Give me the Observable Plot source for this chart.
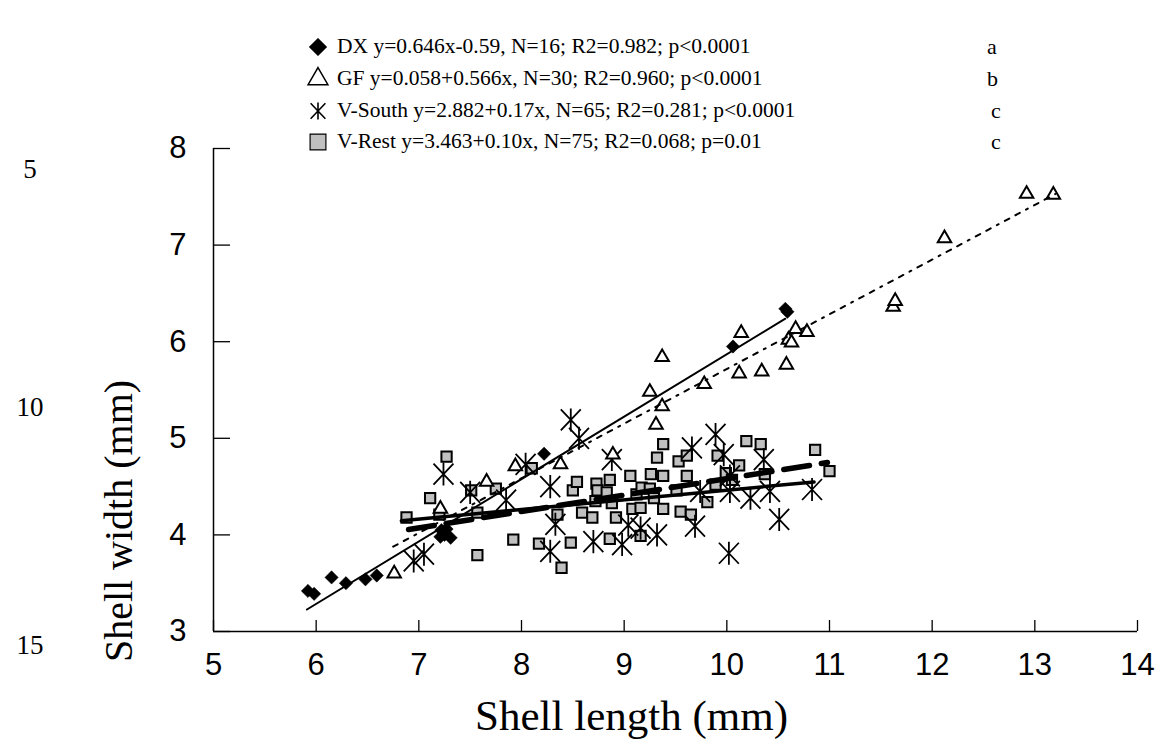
<!DOCTYPE html>
<html><head><meta charset="utf-8">
<script src="https://cdn.jsdelivr.net/npm/d3@7"></script>
<script src="https://cdn.jsdelivr.net/npm/@observablehq/plot@0.6"></script>
<style>
body{margin:0;background:#fff;}
#wrap{position:relative;width:1155px;height:740px;overflow:hidden;}
#chart{position:absolute;left:0;top:0;}
.serif{position:absolute;font-family:"Liberation Serif","Times New Roman",serif;color:#000;white-space:nowrap;line-height:1;}
</style></head><body>
<div id="wrap"><div id="chart"></div></div>
<script>
// ---------- data ----------
const xTicks = [5, 6, 7, 8, 9, 10, 11, 12, 13, 14];
const yTicks = [3, 4, 5, 6, 7, 8];
const xTitle = "Shell length (mm)";
const yTitle = "Shell width (mm)";
const sideLabels = ["5", "10", "15"];

const seriesNames = ["DX", "GF", "V-South", "V-Rest"];
const legendTexts = [
  "DX y=0.646x-0.59, N=16; R2=0.982; p<0.0001",
  "GF y=0.058+0.566x, N=30; R2=0.960; p<0.0001",
  "V-South y=2.882+0.17x, N=65; R2=0.281; p<0.0001",
  "V-Rest y=3.463+0.10x, N=75; R2=0.068; p=0.01"
];
const legendLetters = ["a", "b", "c", "c"];

// regression lines (from legend equations) and their x-extent
const fitIntercept = [-0.59, 0.058, 2.882, 3.463];
const fitSlope = [0.646, 0.566, 0.17, 0.10];
const fitXStart = [5.91, 6.75, 6.90, 6.83];
const fitXEnd = [10.57, 13.20, 10.98, 10.85];

const dxLength = [5.92, 5.98, 6.15, 6.29, 6.48, 6.59, 7.21, 7.24, 7.27, 7.31, 7.25, 7.22, 8.22, 10.06, 10.57, 10.59];
const dxWidth  = [3.42, 3.39, 3.56, 3.50, 3.54, 3.58, 3.98, 4.02, 4.06, 3.97, 4.00, 4.05, 4.84, 5.95, 6.34, 6.31];

const gfLength = [6.76, 7.21, 7.66, 7.94, 8.38, 8.89, 9.31, 9.37, 9.25, 9.37, 9.78, 10.12, 10.14, 10.34, 10.58, 10.60, 10.63, 10.67, 10.78, 11.62, 11.64, 12.12, 12.92, 13.18];
const gfWidth  = [3.60, 4.27, 4.55, 4.71, 4.73, 4.83, 5.14, 5.33, 5.48, 5.84, 5.56, 5.67, 6.09, 5.69, 5.76, 6.02, 5.99, 6.13, 6.10, 6.36, 6.42, 7.07, 7.53, 7.52];

const vsLength = [6.95, 7.05, 7.24, 7.50, 7.85, 8.04, 8.28, 8.28, 8.33, 8.48, 8.56, 8.70, 8.88, 8.98, 9.04, 9.16, 9.32, 9.66, 9.69, 9.74, 9.89, 9.97, 10.02, 10.03, 10.03, 10.23, 10.36, 10.42, 10.51, 10.83];
const vsWidth  = [3.73, 3.80, 4.63, 4.44, 4.36, 4.73, 4.50, 3.83, 4.11, 5.19, 5.00, 3.93, 4.78, 3.90, 4.10, 4.07, 4.00, 4.90, 4.09, 4.45, 5.04, 4.83, 3.81, 4.45, 4.61, 4.38, 4.78, 4.45, 4.16, 4.47];

const vrLength = [6.88, 7.11, 7.27, 7.51, 7.57, 7.57, 7.75, 7.92, 8.10, 8.17, 8.35, 8.39, 8.48, 8.50, 8.54, 8.59, 8.69, 8.72, 8.73, 8.74, 8.83, 8.86, 8.86, 8.88, 8.92, 9.06, 9.08, 9.12, 9.16, 9.16, 9.17, 9.25, 9.26, 9.29, 9.32, 9.38, 9.38, 9.38, 9.51, 9.53, 9.55, 9.61, 9.61, 9.65, 9.81, 9.89, 9.91, 9.99, 10.05, 10.12, 10.19, 10.33, 10.37, 10.86, 11.00, 7.20];
const vrWidth  = [4.18, 4.38, 4.81, 4.46, 3.79, 4.23, 4.48, 3.95, 4.69, 3.91, 4.21, 3.66, 3.92, 4.46, 4.55, 4.23, 4.18, 4.35, 4.53, 4.46, 4.44, 4.57, 3.96, 4.33, 4.18, 4.61, 4.27, 4.42, 4.28, 3.99, 4.49, 4.48, 4.63, 4.38, 4.80, 4.94, 4.61, 4.27, 4.46, 4.76, 4.24, 4.82, 4.61, 4.21, 4.34, 4.52, 4.82, 4.64, 4.57, 4.72, 4.97, 4.94, 4.63, 4.88, 4.66, 4.21];

// ---------- build ----------
const W = 1155, H = 740, mT = 148, mL = 213, mR = 18, mB = 109;
const plotW = W - mL - mR, plotH = H - mT - mB;
const pts = (xs, ys) => xs.map((x, i) => ({x, y: ys[i]}));
const fitLine = i => [fitXStart[i], fitXEnd[i]].map(x => ({x, y: fitIntercept[i] + fitSlope[i] * x}));

const asteriskSym = {
  draw(ctx, size) {
    const r = Math.sqrt(size / Math.PI);
    ctx.moveTo(0, -r * 1.1); ctx.lineTo(0, r * 1.1);
    ctx.moveTo(-r * 0.95, -r); ctx.lineTo(r * 0.95, r);
    ctx.moveTo(-r * 0.95, r); ctx.lineTo(r * 0.95, -r);
  }
};
const serif = "Liberation Serif, Times New Roman, serif";

const chart = Plot.plot({
  width: W, height: H,
  marginTop: mT, marginLeft: mL, marginRight: mR, marginBottom: mB,
  x: {domain: [5, 14]},
  y: {domain: [3, 8]},
  style: {fontFamily: "Liberation Sans, Arial, sans-serif", background: "white", color: "black"},
  marks: [
    // axis lines and inward ticks
    Plot.ruleY([3], {stroke: "black", strokeWidth: 1.5}),
    Plot.ruleX([5], {stroke: "black", strokeWidth: 1.5}),
    Plot.tickX(xTicks, {x: d => d, insetTop: plotH - 11, stroke: "black", strokeWidth: 1.3}),
    Plot.tickY(yTicks, {y: d => d, insetRight: plotW - 17, stroke: "black", strokeWidth: 1.3}),
    Plot.axisX({ticks: xTicks, tickSize: 0, tickPadding: 21, fontSize: 31, label: null, tickFormat: d => String(d)}),
    Plot.axisY({ticks: yTicks, tickSize: 0, tickPadding: 27, fontSize: 31, label: null, tickFormat: d => String(d)}),
    Plot.text([xTitle], {frameAnchor: "bottom", lineAnchor: "middle", textAnchor: "middle", text: d => d, dy: 85, dx: -44, fontSize: 43, fontFamily: serif, fill: "black"}),
    Plot.text([yTitle], {frameAnchor: "left", lineAnchor: "middle", textAnchor: "middle", text: d => d, dx: -94, dy: 131, rotate: -90, fontSize: 40, fontFamily: serif, fill: "black"}),
    // points
    Plot.dot(pts(vrLength, vrWidth), {x: "x", y: "y", symbol: "square", r: 5.8, fill: "#c0c0c0", stroke: "black", strokeWidth: 2}),
    Plot.dot(pts(vsLength, vsWidth), {x: "x", y: "y", symbol: asteriskSym, r: 10.5, fill: "none", stroke: "black", strokeWidth: 1.8}),
    Plot.dot(pts(gfLength, gfWidth), {x: "x", y: "y", symbol: "triangle", r: 5, fill: "white", stroke: "black", strokeWidth: 2}),
    // regression lines
    Plot.line(fitLine(3), {x: "x", y: "y", stroke: "black", strokeWidth: 3.5}),
    Plot.line(fitLine(2), {x: "x", y: "y", stroke: "black", strokeWidth: 5.5, strokeDasharray: "26,12"}),
    Plot.line(fitLine(1), {x: "x", y: "y", stroke: "black", strokeWidth: 2, strokeDasharray: "5,7,5,7,2,7"}),
    Plot.line(fitLine(0), {x: "x", y: "y", stroke: "black", strokeWidth: 2}),
    Plot.dot(pts(dxLength, dxWidth), {x: "x", y: "y", symbol: "diamond2", r: 6, fill: "black", stroke: "black", strokeWidth: 0.5})
  ]
});
document.getElementById("chart").appendChild(chart);

// ---------- legend (HTML above the plot area) ----------
const wrap = document.getElementById("wrap");
const rowY = [47, 79, 111, 142];
const legendSymbols = [
  {type: d3.symbolDiamond2, size: 200, fill: "black", stroke: "black", sw: 0.5},
  {type: d3.symbolTriangle, size: 170, fill: "white", stroke: "black", sw: 1.5},
  {type: asteriskSym, size: 190, fill: "none", stroke: "black", sw: 1.6},
  {type: d3.symbolSquare, size: 250, fill: "#c0c0c0", stroke: "black", sw: 1.2}
];
seriesNames.forEach((name, i) => {
  const s = legendSymbols[i];
  const svg = d3.create("svg").attr("width", 26).attr("height", 26)
    .style("position", "absolute").style("left", "305px").style("top", (rowY[i] - 13) + "px");
  svg.append("path").attr("transform", "translate(13,13)")
    .attr("d", d3.symbol(s.type, s.size)())
    .attr("fill", s.fill).attr("stroke", s.stroke).attr("stroke-width", s.sw);
  wrap.appendChild(svg.node());
  const t = document.createElement("div");
  t.className = "serif";
  t.style.fontSize = "21.5px";
  t.style.left = "337px";
  t.style.top = (rowY[i] - 11) + "px";
  t.textContent = legendTexts[i];
  wrap.appendChild(t);
  const l = document.createElement("div");
  l.className = "serif";
  l.style.fontSize = "22px";
  l.style.left = (i < 2 ? 987 : 991) + "px";
  l.style.top = (rowY[i] - 11) + "px";
  l.textContent = legendLetters[i];
  wrap.appendChild(l);
});
// stray labels on the far left
const sideY = [170, 408, 646];
sideLabels.forEach((s, i) => {
  const d = document.createElement("div");
  d.className = "serif";
  d.style.fontSize = "27px";
  d.style.width = "60px";
  d.style.textAlign = "center";
  d.style.left = "0px";
  d.style.top = (sideY[i] - 14) + "px";
  d.textContent = s;
  wrap.appendChild(d);
});
</script>
</body></html>
